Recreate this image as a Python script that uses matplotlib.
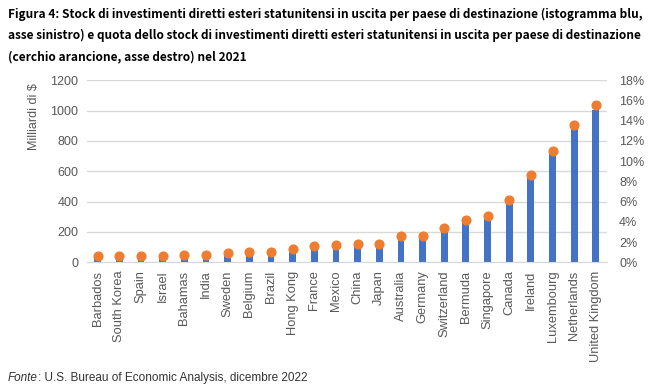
import matplotlib.pyplot as plt
import numpy as np

# Data
countries = ["Barbados", "South Korea", "Spain", "Israel", "Bahamas", "India",
             "Sweden", "Belgium", "Brazil", "Hong Kong", "France", "Mexico",
             "China", "Japan", "Australia", "Germany", "Switzerland", "Bermuda",
             "Singapore", "Canada", "Ireland", "Luxembourg", "Netherlands",
             "United Kingdom"]
stock_bn = [37, 37, 37, 37, 45, 45, 57, 63, 63, 84, 102, 108,
            116, 117, 166, 164, 213, 272, 294, 400, 558, 718, 885, 1004]
share_pct = [0.6, 0.6, 0.6, 0.6, 0.7, 0.7, 0.9, 1.0, 1.0, 1.3, 1.6, 1.7,
             1.8, 1.8, 2.6, 2.6, 3.4, 4.2, 4.6, 6.2, 8.6, 11.0, 13.6, 15.6]

left_ticks = [0, 200, 400, 600, 800, 1000, 1200]
right_ticks = [0, 2, 4, 6, 8, 10, 12, 14, 16, 18]

title_lines = [
    "Figura 4: Stock di investimenti diretti esteri statunitensi in uscita per paese di destinazione (istogramma blu,",
    "asse sinistro) e quota dello stock di investimenti diretti esteri statunitensi in uscita per paese di destinazione",
    "(cerchio arancione, asse destro) nel 2021",
]

blue = "#4472C4"
orange = "#ED7D31"
grey = "#595959"

fig = plt.figure(figsize=(6.49, 3.88), dpi=100)
ax = fig.add_axes([0.1336, 0.324, 0.8012, 0.469])
x = np.arange(len(countries))

ax.bar(x, stock_bn, width=0.31, color=blue, zorder=2)
ax.set_xlim(-0.5, len(countries) - 0.5)
ax.set_ylim(0, 1200)
ax.set_yticks(left_ticks)
ax.set_yticklabels([str(v) for v in left_ticks], fontsize=9, color=grey,
                   family="Liberation Sans")
ax.grid(axis="y", color="#D9D9D9", linewidth=1, zorder=0)
ax.set_xticks(x)
ax.set_xticklabels(countries, rotation=90, fontsize=9.3, color=grey,
                   family="Liberation Sans")
ax.tick_params(length=0, pad=6)
for s in ["top", "right", "left"]:
    ax.spines[s].set_visible(False)
ax.spines["bottom"].set_color("#D9D9D9")

ax2 = ax.twinx()
ax2.plot(x, share_pct, "o", color=orange, markersize=6.3, zorder=3)
ax2.set_ylim(0, 18)
ax2.set_yticks(right_ticks)
ax2.set_yticklabels([f"{v}%" for v in right_ticks], fontsize=9, color=grey,
                    family="Liberation Sans")
ax2.tick_params(length=0, pad=9)
for s in ax2.spines.values():
    s.set_visible(False)

fig.text(0.052, 0.70, "Milliardi di $", rotation=90, fontsize=9, color=grey,
         family="Liberation Sans", ha="center", va="center")

# title: shrink font so the first line spans the same width as in the reference
titles = []
for i, line in enumerate(title_lines):
    t = fig.text(8 / 649, 1 - (14 + 21.5 * i) / 388, line, fontsize=9, fontweight="bold",
                 family=["Noto Sans CJK JP", "DejaVu Sans"], va="center", ha="left")
    titles.append(t)
renderer = fig.canvas.get_renderer()
w = titles[0].get_window_extent(renderer).width
size = 9 * 637 / w
for t in titles:
    t.set_fontsize(size)

fonte = fig.text(8 / 649, 1 - 378 / 388, "Fonte", fontsize=8.5, style="italic",
                 family="Liberation Sans", color="#333333", va="center")
fx = fonte.get_window_extent(renderer).x1
fig.text(fx / 649, 1 - 378 / 388, ": U.S. Bureau of Economic Analysis, dicembre 2022",
         fontsize=8.5, family="Liberation Sans", color="#333333", va="center")

fig.savefig("out.png", dpi=100)
